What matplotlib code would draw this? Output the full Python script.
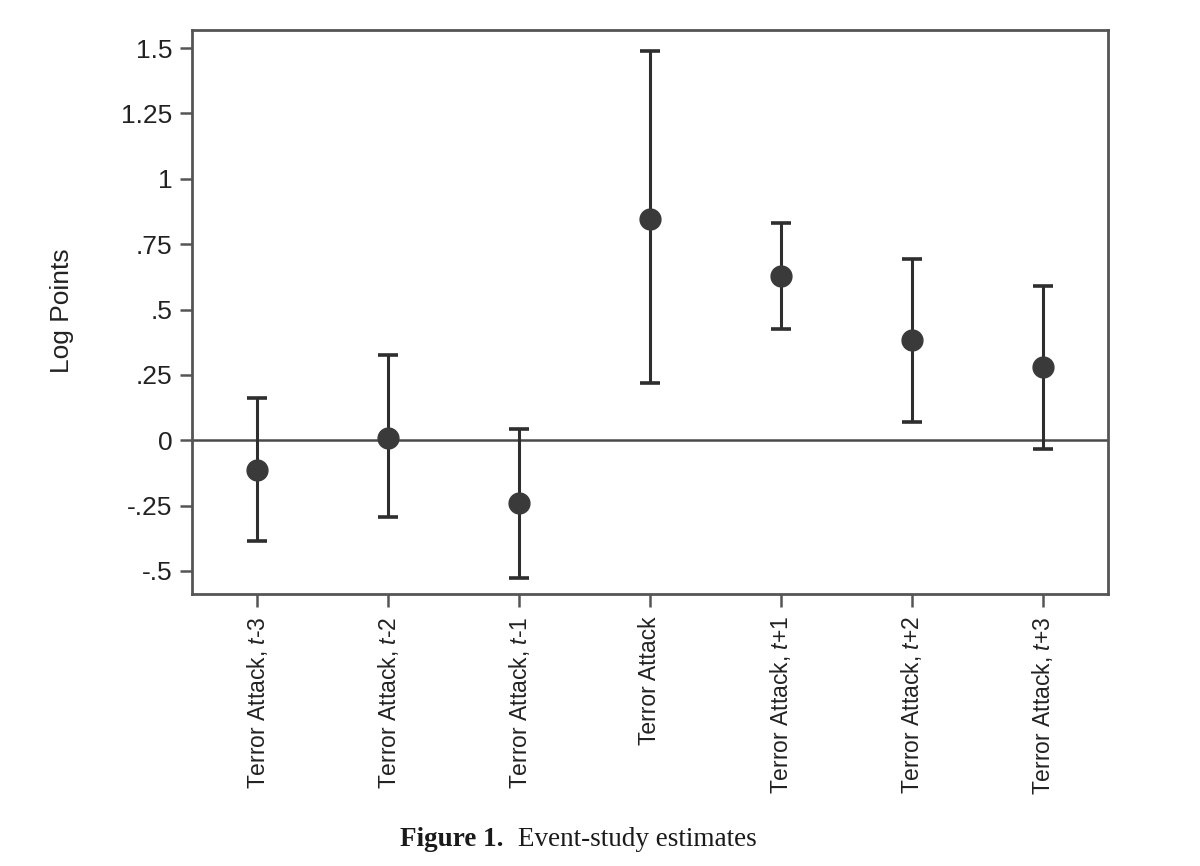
import matplotlib
matplotlib.use("Agg")
import matplotlib.pyplot as plt
import numpy as np

# ---- data ----
labels = ["Terror Attack, $t$-3", "Terror Attack, $t$-2", "Terror Attack, $t$-1",
          "Terror Attack",
          "Terror Attack, $t$+1", "Terror Attack, $t$+2", "Terror Attack, $t$+3"]
estimates = [-0.115, 0.008, -0.241, 0.847, 0.628, 0.383, 0.280]
ci_lower = [-0.387, -0.295, -0.525, 0.218, 0.425, 0.069, -0.034]
ci_upper = [0.161, 0.326, 0.042, 1.487, 0.831, 0.693, 0.590]
yticks = [-0.5, -0.25, 0, 0.25, 0.5, 0.75, 1, 1.25, 1.5]
yticklabels = ["-.5", "-.25", "0", ".25", ".5", ".75", "1", "1.25", "1.5"]

plt.rcParams['font.family'] = ['Liberation Sans', 'DejaVu Sans']
plt.rcParams['mathtext.fontset'] = 'custom'
plt.rcParams['mathtext.rm'] = 'Liberation Sans'
plt.rcParams['mathtext.it'] = 'Liberation Sans:italic'

fig = plt.figure(figsize=(12, 8.66), dpi=100)
ax = fig.add_axes([192/1200, 1 - 594/866, (1108-192)/1200, (594-30)/866])

x = np.arange(1, len(labels) + 1)
est = np.array(estimates)
lo = np.array(ci_lower)
hi = np.array(ci_upper)

ax.axhline(0, color='#4a4a4a', lw=1.8, zorder=1)
ax.errorbar(x, est, yerr=[est - lo, hi - est], fmt='o', color='#3a3a3a',
            ecolor='#2e2e2e', elinewidth=2.2, capsize=7.5, capthick=2.6,
            markersize=15, zorder=3)

ax.set_xlim(0.5, 7.5)
ax.set_ylim(-0.588, 1.569)
ax.set_yticks(yticks)
ax.set_yticklabels(yticklabels)
ax.set_xticks(x)
ax.set_xticklabels(labels, rotation=90, ha='center', va='top')

ax.tick_params(axis='y', labelsize=19, length=9, width=1.8, color='#555555',
               pad=5, labelcolor='#222222')
ax.tick_params(axis='x', labelsize=16.5, length=9, width=1.8, color='#555555',
               pad=7, labelcolor='#222222')
for s in ax.spines.values():
    s.set_color('#555555')
    s.set_linewidth(2.0)

fig.text(62/1200, 1 - 311/866, "Log Points", rotation=90, ha='center',
         va='center', fontsize=19, color='#222222')

# caption
renderer = fig.canvas.get_renderer()
t1 = fig.text(400/1200, 1 - 846/866, "Figure 1.", fontsize=19.5,
              fontweight='bold', family=['Liberation Serif', 'DejaVu Serif'],
              ha='left', va='baseline', color='#1a1a1a')
bb = t1.get_window_extent(renderer)
fig.text((bb.x1 + 15) / 1200, 1 - 846/866, "Event-study estimates",
         fontsize=19.5, family=['Liberation Serif', 'DejaVu Serif'],
         ha='left', va='baseline', color='#1a1a1a')

fig.savefig("out.png", dpi=100)
